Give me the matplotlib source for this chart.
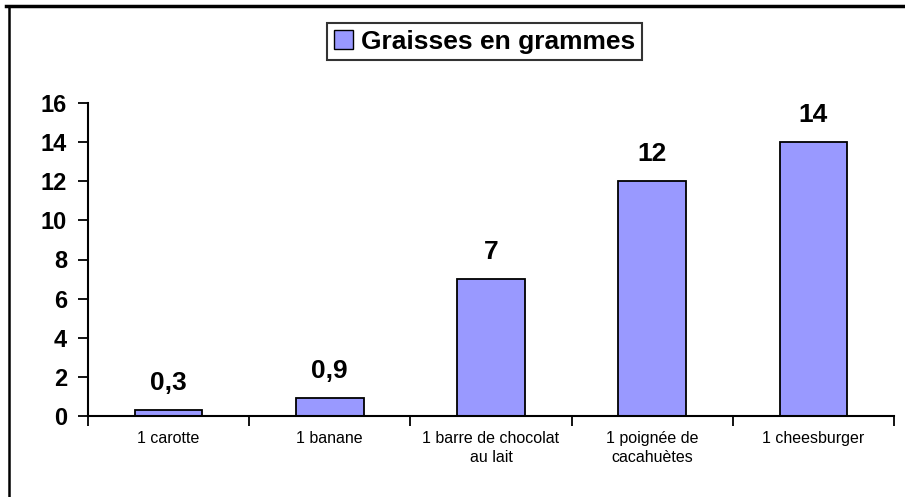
import matplotlib
matplotlib.use("Agg")
import matplotlib.pyplot as plt
from matplotlib.lines import Line2D
from matplotlib.patches import Patch

categories = ["1 carotte", "1 banane", "1 barre de chocolat\nau lait",
              "1 poignée de\ncacahuètes", "1 cheesburger"]
values = [0.3, 0.9, 7, 12, 14]
value_labels = ["0,3", "0,9", "7", "12", "14"]
yticks = [0, 2, 4, 6, 8, 10, 12, 14, 16]
series_name = "Graisses en grammes"

plt.rcParams['font.family'] = ['Liberation Sans', 'DejaVu Sans']

fig = plt.figure(figsize=(9.05, 4.97), dpi=100)
ax = fig.add_axes([88/905, 81/497, 806/905, 313/497])

x = list(range(len(categories)))
bars = ax.bar(x, values, width=0.42, color='#9999FF', edgecolor='black', linewidth=1.3)

for xi, v, lab in zip(x, values, value_labels):
    ax.annotate(lab, (xi, v), xytext=(0, 11), textcoords='offset points',
                ha='center', va='bottom', fontsize=19, fontweight='bold')

ax.set_xlim(-0.5, len(categories) - 0.5)
ax.set_ylim(0, 16)
ax.set_yticks(yticks)
ax.set_yticklabels([str(t) for t in yticks], fontsize=17, fontweight='bold')

ax.set_xticks([i - 0.5 for i in range(len(categories) + 1)])
ax.set_xticklabels([])
ax.set_xticks(x, minor=True)
ax.set_xticklabels(categories, minor=True, fontsize=11.5, linespacing=1.35)
ax.tick_params(axis='x', which='minor', length=0, pad=11)
ax.tick_params(axis='x', which='major', length=7, width=1.3, direction='out')
ax.tick_params(axis='y', length=7, width=1.3, pad=8)

for s in ['top', 'right']:
    ax.spines[s].set_visible(False)
for s in ['left', 'bottom']:
    ax.spines[s].set_linewidth(1.5)

leg = fig.legend(handles=[Patch(facecolor='#9999FF', edgecolor='black', linewidth=1)],
                 labels=[series_name], loc='center', bbox_to_anchor=(484.5/905, 1 - 41.5/497),
                 prop={'weight': 'bold', 'size': 19}, frameon=True, fancybox=False,
                 handlelength=0.75, handleheight=0.75, handletextpad=0.3,
                 borderpad=0.25, borderaxespad=0)
leg.get_frame().set_edgecolor('black')
leg.get_frame().set_linewidth(1.5)

# outer border lines
fig.add_artist(Line2D([6/905, 1], [1 - 6/497, 1 - 6/497], color='black', linewidth=2.5,
                      transform=fig.transFigure))
fig.add_artist(Line2D([9/905, 9/905], [0, 1 - 6/497], color='black', linewidth=1.8,
                      transform=fig.transFigure))

fig.savefig("out.png", dpi=100)
